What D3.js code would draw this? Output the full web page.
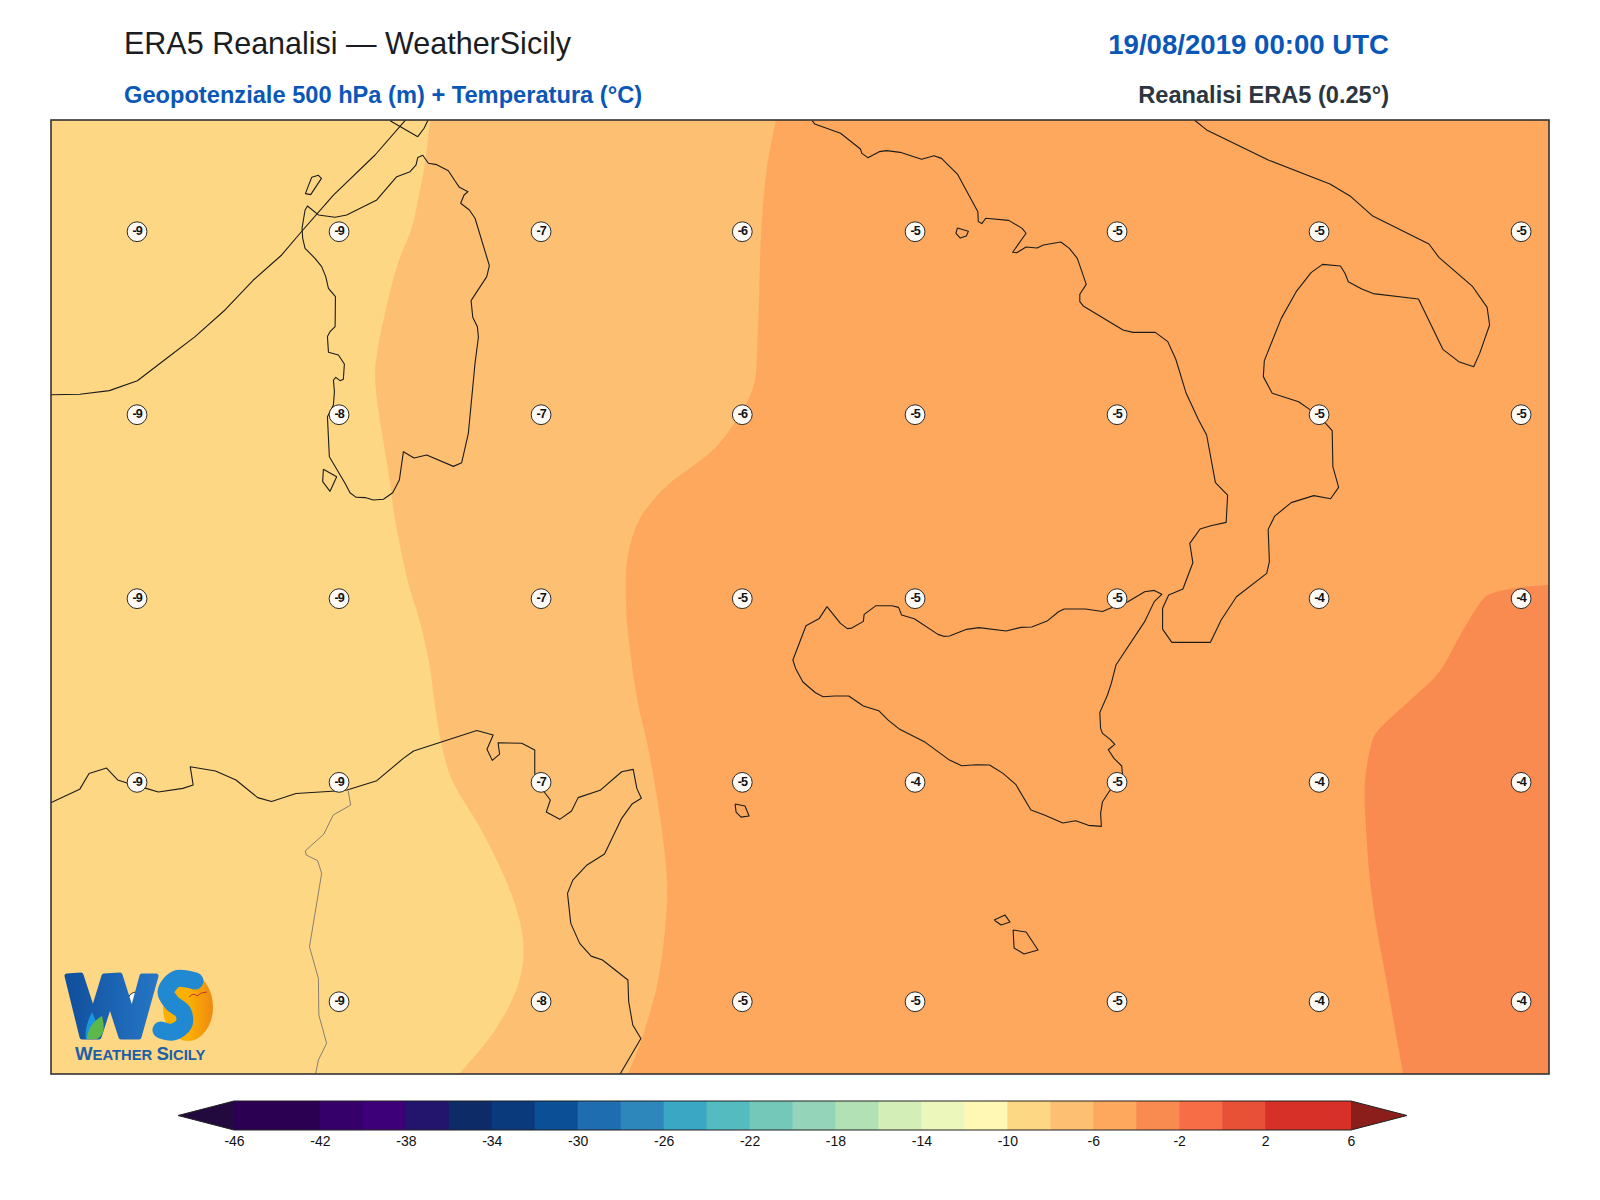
<!DOCTYPE html>
<html>
<head>
<meta charset="utf-8">
<script src="https://cdn.jsdelivr.net/npm/d3@7"></script>
<style>
  html, body { margin: 0; padding: 0; background: #fff; }
  svg { display: block; font-family: "Liberation Sans", Arial, sans-serif; }
</style>
</head>
<body>
<div id="chart"></div>
<script>
// Point labels: temperature at 500 hPa
var labelLons = [6.77, 8.559, 10.348, 12.13, 13.66, 15.449, 17.238, 19.027];
var labelLats = [40.859, 39.552, 38.238, 36.926, 35.359];
var labelValues = [
  [-9, -9, -7, -6, -5, -5, -5, -5],
  [-9, -8, -7, -6, -5, -5, -5, -5],
  [-9, -9, -7, -5, -5, -5, -4, -4],
  [-9, -9, -7, -5, -4, -5, -4, -4],
  [-9, -9, -8, -5, -5, -5, -4, -4]
];

// Colour bar
var barLevels = [-46, -42, -40, -38, -36, -34, -32, -30, -28, -26, -24, -22, -20, -18, -16, -14, -12, -10, -8, -6, -4, -2, 0, 2, 6];
var barColors = ["#2b0052", "#35006a", "#3e0078", "#23146e", "#0d2b66", "#0a3a7b", "#0b4f97", "#1e6db0", "#2d87ba", "#3aa8c4", "#54bcc0", "#74c8ba", "#94d4b8", "#b3e1b6", "#d3eeb7", "#ecf7bb", "#fff8b4", "#fdd784", "#fdbf71", "#fda85d", "#f98b50", "#f76d45", "#e85135", "#d73028"];
var barTicks = [-46, -42, -38, -34, -30, -26, -22, -18, -14, -10, -6, -2, 2, 6];
var underColor = "#220a3e";
var overColor = "#8b1e1a";

// Isotherm band edges, north to south
var iso8 = [[9.365,41.657],[9.321,41.35],[9.276,41.157],[9.205,40.893],[9.081,40.636],[8.966,40.279],[8.904,40.036],[8.878,39.85],[8.895,39.657],[8.949,39.371],[9.011,39.064],[9.055,38.8],[9.17,38.357],[9.276,38.071],[9.356,37.778],[9.418,37.421],[9.471,37.178],[9.56,36.943],[9.834,36.564],[10.082,36.136],[10.18,35.85],[10.188,35.636],[10.118,35.421],[9.923,35.136],[9.622,34.843]];
var iso6 = [[12.429,41.657],[12.349,41.321],[12.296,40.85],[12.278,40.371],[12.261,40.014],[12.243,39.8],[12.181,39.657],[12.048,39.479],[11.889,39.314],[11.729,39.207],[11.49,39.064],[11.357,38.957],[11.207,38.786],[11.11,38.514],[11.1,38.229],[11.118,37.993],[11.207,37.486],[11.295,37.178],[11.437,36.464],[11.464,36.107],[11.384,35.514],[11.224,35.057],[11.118,34.843]];
var iso4 = [[19.283,38.336],[19.044,38.321],[18.779,38.279],[18.708,38.25],[18.513,38.014],[18.354,37.778],[18.265,37.679],[18.017,37.493],[17.743,37.279],[17.699,37.193],[17.646,36.943],[17.654,36.586],[17.707,36.1],[17.849,35.443],[17.982,34.843]];

// Coastlines
var sardegna = [[9.256,41.39],[9.30,41.405],[9.35,41.348],[9.424,41.338],[9.527,41.295],[9.586,41.221],[9.625,41.176],[9.701,41.145],[9.666,41.121],[9.636,41.062],[9.713,41.014],[9.763,40.955],[9.89,40.617],[9.867,40.538],[9.728,40.367],[9.743,40.248],[9.784,40.181],[9.793,40.105],[9.763,39.919],[9.704,39.419],[9.645,39.209],[9.572,39.183],[9.335,39.264],[9.223,39.243],[9.129,39.288],[9.093,39.086],[9.034,38.995],[8.952,38.948],[8.863,38.943],[8.789,38.96],[8.71,38.962],[8.656,38.995],[8.612,39.062],[8.473,39.252],[8.456,39.538],[8.509,39.621],[8.518,39.717],[8.509,39.8],[8.53,39.819],[8.568,39.795],[8.597,39.805],[8.606,39.914],[8.553,39.979],[8.465,39.998],[8.456,40.11],[8.479,40.145],[8.524,40.181],[8.527,40.395],[8.465,40.455],[8.441,40.538],[8.405,40.61],[8.346,40.669],[8.258,40.74],[8.237,40.812],[8.231,40.883],[8.258,41.014],[8.279,41.043],[8.376,40.979],[8.524,40.962],[8.627,40.979],[8.893,41.086],[9.07,41.252],[9.188,41.288],[9.241,41.336],[9.256,41.39]];
var asinara = [[8.317,41.248],[8.376,41.262],[8.403,41.24],[8.308,41.124],[8.261,41.131],[8.282,41.176],[8.317,41.248]];
var antioco = [[8.42,39.162],[8.538,39.109],[8.479,39.005],[8.414,39.074],[8.42,39.162]];
var confine = [[6.0,39.695],[6.265,39.698],[6.525,39.724],[6.773,39.795],[7.033,39.955],[7.284,40.11],[7.549,40.3],[7.8,40.514],[8.051,40.693],[8.214,40.848],[8.509,41.121],[8.878,41.407],[9.143,41.652],[9.2,41.7]];
var corsica = [[9.011,41.652],[9.256,41.538],[9.312,41.598],[9.344,41.652],[9.36,41.7]];
var tunisia = [[6.0,36.78],[6.02,36.786],[6.262,36.876],[6.345,36.99],[6.5,37.028],[6.598,36.943],[6.688,36.919],[6.851,36.883],[6.959,36.857],[7.176,36.883],[7.267,36.907],[7.241,37.038],[7.465,37.007],[7.646,36.943],[7.838,36.817],[7.961,36.79],[8.178,36.847],[8.532,36.864],[8.63,36.871],[8.893,36.938],[9.128,37.097],[9.219,37.15],[9.779,37.297],[9.924,37.264],[9.869,37.162],[9.916,37.083],[9.981,37.128],[9.967,37.209],[10.177,37.205],[10.292,37.157],[10.292,36.99],[10.375,36.859],[10.43,36.8],[10.394,36.714],[10.513,36.662],[10.618,36.721],[10.676,36.817],[10.871,36.869],[11.062,37.002],[11.164,37.019],[11.196,36.883],[11.236,36.812],[11.153,36.771],[11.062,36.669],[10.91,36.414],[10.755,36.336],[10.629,36.228],[10.582,36.133],[10.611,35.919],[10.69,35.776],[10.791,35.685],[10.892,35.657],[11.117,35.514],[11.124,35.359],[11.16,35.193],[11.232,35.097],[11.048,34.843]];
var algeriaBorder = [[8.64,36.864],[8.662,36.764],[8.507,36.693],[8.423,36.555],[8.261,36.438],[8.268,36.407],[8.369,36.367],[8.405,36.276],[8.297,35.752],[8.376,35.526],[8.38,35.264],[8.449,35.062],[8.376,34.943],[8.351,34.843]];
var italia = [[12.749,41.652],[12.771,41.629],[13.0,41.562],[13.176,41.45],[13.189,41.419],[13.242,41.388],[13.343,41.431],[13.409,41.438],[13.528,41.426],[13.718,41.376],[13.828,41.402],[13.894,41.383],[14.035,41.271],[14.216,41.002],[14.22,40.931],[14.251,40.917],[14.286,40.955],[14.489,40.94],[14.608,40.883],[14.643,40.848],[14.524,40.712],[14.564,40.71],[14.643,40.75],[14.74,40.743],[14.797,40.764],[14.951,40.786],[15.026,40.74],[15.097,40.669],[15.176,40.483],[15.119,40.412],[15.119,40.36],[15.149,40.329],[15.502,40.157],[15.59,40.14],[15.788,40.14],[15.898,40.074],[15.969,39.948],[16.061,39.705],[16.171,39.514],[16.242,39.407],[16.32,39.067],[16.428,38.978],[16.415,38.783],[16.279,38.759],[16.184,38.736],[16.093,38.633],[16.12,38.495],[16.032,38.307],[15.906,38.264],[15.852,38.169],[15.852,38.021],[15.934,37.926],[16.276,37.926],[16.371,38.086],[16.506,38.252],[16.774,38.419],[16.798,38.502],[16.787,38.733],[16.845,38.828],[16.991,38.924],[17.191,38.974],[17.34,38.952],[17.411,39.033],[17.36,39.181],[17.354,39.438],[17.296,39.49],[17.154,39.59],[17.057,39.645],[16.823,39.705],[16.744,39.824],[16.753,39.938],[16.903,40.24],[17.035,40.431],[17.167,40.567],[17.268,40.626],[17.427,40.614],[17.467,40.562],[17.497,40.502],[17.616,40.45],[17.717,40.417],[18.118,40.379],[18.334,40.019],[18.475,39.931],[18.607,39.895],[18.66,39.99],[18.748,40.193],[18.726,40.319],[18.594,40.471],[18.299,40.676],[18.211,40.771],[17.713,40.971],[17.519,41.11],[17.334,41.2],[16.788,41.371],[16.242,41.586],[16.141,41.652],[16.1,41.7]];
var ischia = [[14.035,40.886],[14.132,40.862],[14.114,40.829],[14.061,40.814],[14.022,40.848],[14.035,40.886]];
var sicilia = [[12.88,38.181],[12.999,38.062],[13.06,38.024],[13.1,38.028],[13.202,38.076],[13.209,38.126],[13.314,38.188],[13.456,38.188],[13.514,38.176],[13.541,38.121],[13.653,38.095],[13.863,37.983],[13.914,37.969],[13.965,37.971],[14.117,38.019],[14.226,38.031],[14.466,38.007],[14.598,38.033],[14.693,38.036],[14.829,38.078],[14.93,38.145],[14.981,38.164],[15.168,38.164],[15.32,38.147],[15.388,38.169],[15.541,38.214],[15.693,38.288],[15.778,38.297],[15.845,38.269],[15.778,38.217],[15.693,38.074],[15.439,37.764],[15.398,37.633],[15.364,37.55],[15.296,37.424],[15.303,37.312],[15.32,37.276],[15.388,37.233],[15.429,37.197],[15.371,37.159],[15.422,37.097],[15.49,37.043],[15.496,36.99],[15.388,36.871],[15.32,36.788],[15.303,36.705],[15.31,36.612],[15.195,36.619],[15.083,36.652],[14.968,36.636],[14.805,36.693],[14.686,36.728],[14.551,36.912],[14.439,36.99],[14.32,37.05],[14.202,37.052],[14.073,37.045],[13.965,37.085],[13.751,37.212],[13.524,37.305],[13.422,37.371],[13.338,37.438],[13.202,37.471],[13.073,37.543],[12.948,37.543],[12.846,37.538],[12.778,37.566],[12.667,37.643],[12.602,37.74],[12.578,37.8],[12.694,38.045],[12.812,38.097],[12.88,38.181]];
var pantelleria = [[12.066,36.771],[12.154,36.757],[12.19,36.686],[12.119,36.678],[12.075,36.714],[12.066,36.771]];
var gozo = [[14.36,35.943],[14.457,35.978],[14.501,35.928],[14.422,35.907],[14.36,35.943]];
var malta = [[14.528,35.871],[14.643,35.857],[14.749,35.729],[14.625,35.7],[14.537,35.743],[14.528,35.871]];

var coastLines = [sardegna, asinara, antioco, confine, corsica, tunisia, italia, ischia, sicilia, pantelleria, gozo, malta];

var width = 1600, height = 1200;
var margin = { top: 120, right: 51, bottom: 126, left: 51 };

var svg = d3.select("#chart").append("svg")
  .attr("width", width)
  .attr("height", height);

svg.append("rect").attr("width", width).attr("height", height).attr("fill", "#fff");

var xScale = d3.scaleLinear().domain([6.008, 19.274]).range([margin.left, width - margin.right]);
var yScale = d3.scaleLinear().domain([34.843, 41.657]).range([height - margin.bottom, margin.top]);

var lonMax = xScale.domain()[1], latMin = yScale.domain()[0], latMax = yScale.domain()[1];
var mapW = width - margin.left - margin.right;
var mapH = height - margin.top - margin.bottom;

svg.append("clipPath").attr("id", "mapclip").append("rect")
  .attr("x", margin.left).attr("y", margin.top).attr("width", mapW).attr("height", mapH);

var map = svg.append("g").attr("clip-path", "url(#mapclip)");

// Bands
var smooth = d3.line().x(function(d) { return xScale(d[0]); }).y(function(d) { return yScale(d[1]); }).curve(d3.curveCatmullRom.alpha(0.5));
var straight = d3.line().x(function(d) { return xScale(d[0]); }).y(function(d) { return yScale(d[1]); });

map.append("rect").attr("x", margin.left).attr("y", margin.top).attr("width", mapW).attr("height", mapH).attr("fill", barColors[barLevels.indexOf(-10)]);

function bandPath(edge, corners) {
  var c = corners.map(function(p) { return "L" + xScale(p[0]) + "," + yScale(p[1]); }).join("");
  return smooth(edge) + c + "Z";
}
map.append("path").attr("d", bandPath(iso8, [[lonMax, latMin], [lonMax, latMax]])).attr("fill", barColors[barLevels.indexOf(-8)]);
map.append("path").attr("d", bandPath(iso6, [[lonMax, latMin], [lonMax, latMax]])).attr("fill", barColors[barLevels.indexOf(-6)]);
map.append("path").attr("d", bandPath(iso4, [[lonMax, latMin]])).attr("fill", barColors[barLevels.indexOf(-4)]);

// Coasts
map.selectAll(".coast").data(coastLines).enter().append("path")
  .attr("class", "coast")
  .attr("d", straight)
  .attr("fill", "none")
  .attr("stroke", "#1c1c1c")
  .attr("stroke-width", 1.1)
  .attr("stroke-linejoin", "round");

map.append("path").attr("d", straight(algeriaBorder))
  .attr("fill", "none").attr("stroke", "#6a6a6a").attr("stroke-width", 0.8);

// Temperature labels
labelLats.forEach(function(lat, r) {
  labelLons.forEach(function(lon, c) {
    var g = svg.append("g").attr("transform", "translate(" + xScale(lon) + "," + yScale(lat) + ")");
    g.append("circle").attr("r", 9.9).attr("fill", "#fdfaf6").attr("stroke", "#2a2a2a").attr("stroke-width", 1);
    g.append("text").attr("text-anchor", "middle").attr("y", 3.2)
      .attr("font-size", 12.6).attr("font-weight", "bold").attr("letter-spacing", -1)
      .attr("fill", "#111").text(labelValues[r][c]);
  });
});

// Frame
svg.append("rect").attr("x", margin.left).attr("y", margin.top).attr("width", mapW).attr("height", mapH)
  .attr("fill", "none").attr("stroke", "#333").attr("stroke-width", 1.6);

// Titles
svg.append("text").attr("x", 124).attr("y", 54).attr("font-size", 30.5).attr("fill", "#1a1d22").text("ERA5 Reanalisi — WeatherSicily");
svg.append("text").attr("x", 124).attr("y", 103).attr("font-size", 23.65).attr("font-weight", "bold").attr("fill", "#0b57b8").text("Geopotenziale 500 hPa (m) + Temperatura (°C)");
svg.append("text").attr("x", 1389).attr("y", 54).attr("text-anchor", "end").attr("font-size", 27.6).attr("font-weight", "bold").attr("fill", "#0b57b8").text("19/08/2019 00:00 UTC");
svg.append("text").attr("x", 1389).attr("y", 103).attr("text-anchor", "end").attr("font-size", 23.6).attr("font-weight", "bold").attr("fill", "#2d3640").text("Reanalisi ERA5 (0.25°)");

// Colour bar
var barY = 1101, barH = 29;
var barScale = d3.scaleLinear().domain([-46, 6]).range([234, 1351]);
var bar = svg.append("g");
barColors.forEach(function(col, i) {
  bar.append("rect")
    .attr("x", barScale(barLevels[i])).attr("y", barY)
    .attr("width", barScale(barLevels[i + 1]) - barScale(barLevels[i]) + 0.5)
    .attr("height", barH).attr("fill", col);
});
bar.append("path").attr("d", "M" + barScale(-46) + "," + barY + "L178," + (barY + barH / 2) + "L" + barScale(-46) + "," + (barY + barH) + "Z").attr("fill", underColor);
bar.append("path").attr("d", "M" + barScale(6) + "," + barY + "L1407," + (barY + barH / 2) + "L" + barScale(6) + "," + (barY + barH) + "Z").attr("fill", overColor);
bar.append("path")
  .attr("d", "M" + barScale(-46) + "," + barY + "H" + barScale(6) + "L1407," + (barY + barH / 2) + "L" + barScale(6) + "," + (barY + barH) + "H" + barScale(-46) + "L178," + (barY + barH / 2) + "Z")
  .attr("fill", "none").attr("stroke", "#222").attr("stroke-width", 1);

var barAxis = d3.axisBottom(barScale).tickValues(barTicks).tickSize(0).tickPadding(5.7).tickFormat(function(d) { return String(d); });
var barAxisG = svg.append("g").attr("transform", "translate(0," + (barY + barH) + ")").call(barAxis);
barAxisG.select(".domain").remove();
barAxisG.selectAll("text").attr("font-size", 14).attr("font-family", "Liberation Sans").attr("fill", "#111");

// Logo
var logo = svg.append("g");
var defs = svg.append("defs");
var grad = defs.append("linearGradient").attr("id", "wgrad").attr("x1", 0).attr("x2", 1).attr("y1", 0).attr("y2", 0);
grad.append("stop").attr("offset", "0").attr("stop-color", "#104f9c");
grad.append("stop").attr("offset", "1").attr("stop-color", "#2576c6");
var sunGrad = defs.append("linearGradient").attr("id", "sungrad").attr("x1", 0).attr("x2", 1).attr("y1", 0).attr("y2", 0);
sunGrad.append("stop").attr("offset", "0.5").attr("stop-color", "#fbb000");
sunGrad.append("stop").attr("offset", "1").attr("stop-color", "#ee8a10");
var logoLine = d3.line().curve(d3.curveCatmullRom.alpha(0.5));
logo.append("ellipse").attr("cx", 188).attr("cy", 1007).attr("rx", 25).attr("ry", 34).attr("fill", "url(#sungrad)");
logo.append("path").attr("d", d3.line()([[67, 976], [81, 975], [93, 1012], [104, 976], [120, 975], [132, 1013], [142, 976], [156, 976], [139, 1037], [121, 1037], [110, 1003], [99, 1037], [82, 1037]]) + "Z")
  .attr("fill", "url(#wgrad)").attr("stroke", "url(#wgrad)").attr("stroke-width", 5).attr("stroke-linejoin", "round");
logo.append("path").attr("d", logoLine([[195, 981], [176, 979], [166, 992], [172, 1003], [183, 1012], [184, 1024], [173, 1032], [161, 1030]]))
  .attr("fill", "none").attr("stroke", "#2189d2").attr("stroke-width", 17).attr("stroke-linecap", "round");
logo.append("path").attr("d", "M86,1039Q84,1028 92,1012Q100,1028 96,1039Z").attr("fill", "#1b95e0");
logo.append("path").attr("d", "M87,1039Q88,1024 102,1016Q107,1034 97,1039Z").attr("fill", "#5cb84a");
logo.append("path").attr("d", "M189,997Q194,992 197,996Q201,992 207,992").attr("fill", "none").attr("stroke", "#c0392b").attr("stroke-width", 1);
var logoText = logo.append("text").attr("x", 75).attr("y", 1060).attr("font-weight", "bold").attr("fill", "#1c5ea8").attr("font-size", 14.8);
logoText.append("tspan").attr("font-size", 18.6).text("W");
logoText.append("tspan").text("EATHER ");
logoText.append("tspan").attr("font-size", 18.6).text("S");
logoText.append("tspan").text("ICILY");
</script>
</body>
</html>
